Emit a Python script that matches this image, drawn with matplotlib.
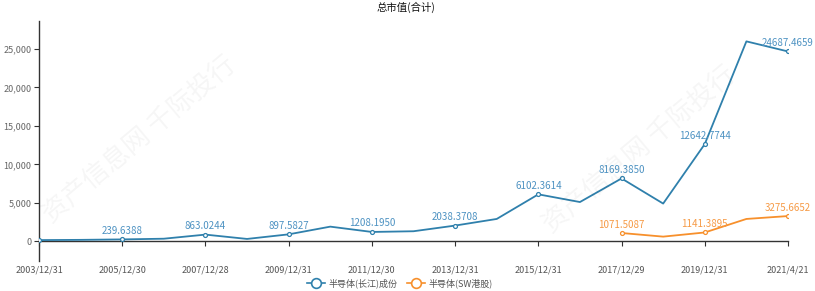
import matplotlib
matplotlib.use("Agg")
import matplotlib.pyplot as plt
from matplotlib.lines import Line2D
import numpy as np

plt.rcParams["font.family"] = ["Noto Sans CJK SC", "DejaVu Sans"]

dates = ["2003/12/31", "2004/12/31", "2005/12/30", "2006/12/29", "2007/12/28",
         "2008/12/31", "2009/12/31", "2010/12/31", "2011/12/30", "2012/12/31",
         "2013/12/31", "2014/12/31", "2015/12/31", "2016/12/30", "2017/12/29",
         "2018/12/28", "2019/12/31", "2020/12/31", "2021/4/21"]

cj_values = [150, 180, 239.6388, 330, 863.0244, 300, 897.5827, 1900, 1208.1950,
             1300, 2038.3708, 2900, 6102.3614, 5100, 8169.3850, 4900,
             12642.7744, 26000, 24687.4659]

sw_values = [None] * 14 + [1071.5087, 600, 1141.3895, 2900, 3275.6652]

series_names = ["半导体(长江)成份", "半导体(SW港股)"]
title = "总市值(合计)"

blue = "#2f80ac"
blue_label = "#4d92c2"
orange = "#f7902c"
orange_label = "#f69a45"

W, H = 815, 291
fig = plt.figure(figsize=(W / 100, H / 100), dpi=100)
ax = fig.add_axes([39 / W, 1 - 261 / H, (788 - 39) / W, (261 - 21) / H])

x = np.arange(len(dates))
ax.set_xlim(0, len(dates) - 1)
ax.set_ylim(-2570, 28650)


def draw(values, color, label_color):
    xs = [i for i, v in enumerate(values) if v is not None]
    ys = [values[i] for i in xs]
    ax.plot(xs, ys, color=color, lw=1.3, zorder=3)
    mx = [i for i in xs if i % 2 == 0]
    my = [values[i] for i in mx]
    ax.scatter(mx, my, s=8, facecolor="white", edgecolor=color, lw=0.9, zorder=4)
    for i in mx:
        if i == 0:
            continue
        ax.annotate(f"{values[i]:.4f}", (i, values[i]), xytext=(0, 2.5),
                    textcoords="offset points", ha="center", va="bottom",
                    fontsize=7, color=label_color, zorder=5)


draw(cj_values, blue, blue_label)
draw(sw_values, orange, orange_label)

# axes styling
for s in ["top", "right"]:
    ax.spines[s].set_visible(False)
ax.spines["left"].set_color("#333333")
ax.spines["left"].set_linewidth(1.0)
ax.spines["bottom"].set_position(("data", 0))
ax.spines["bottom"].set_color("#333333")
ax.spines["bottom"].set_linewidth(1.0)

yticks = [0, 5000, 10000, 15000, 20000, 25000]
ax.set_yticks(yticks)
ax.set_yticklabels([f"{v:,}" for v in yticks])
ax.tick_params(axis="y", length=3.5, width=0.8, color="#333333", labelsize=6.5,
               labelcolor="#666666", pad=2)
ax.set_xticks(x[::2])
ax.set_xticklabels(dates[::2])
ax.tick_params(axis="x", length=3.5, width=0.8, color="#333333", labelsize=6.5,
               labelcolor="#555555", pad=14)
ax.set_facecolor("none")

fig.text(406 / W, 1 - 7 / H, title, ha="center", va="center", fontsize=7.5, color="#111111")

# faint watermark
wm = "资产信息网 千际投行"
for (px, py) in [(140, 140), (640, 150)]:
    fig.text(px / W, 1 - py / H, wm, rotation=40, ha="center", va="center",
             fontsize=19, color="#000000", alpha=0.04, zorder=0)

handles = [Line2D([], [], color=blue, lw=1.2, marker="o", markersize=7,
                  markerfacecolor="white", markeredgewidth=1.2),
           Line2D([], [], color=orange, lw=1.2, marker="o", markersize=7,
                  markerfacecolor="white", markeredgewidth=1.2)]
fig.legend(handles, series_names, loc="center", bbox_to_anchor=(400 / W, 1 - 283 / H),
           ncol=2, frameon=False, fontsize=6.5, handlelength=2.0, handletextpad=0.4,
           columnspacing=1.0, labelcolor="#555555")

fig.savefig("out.png", dpi=100)
